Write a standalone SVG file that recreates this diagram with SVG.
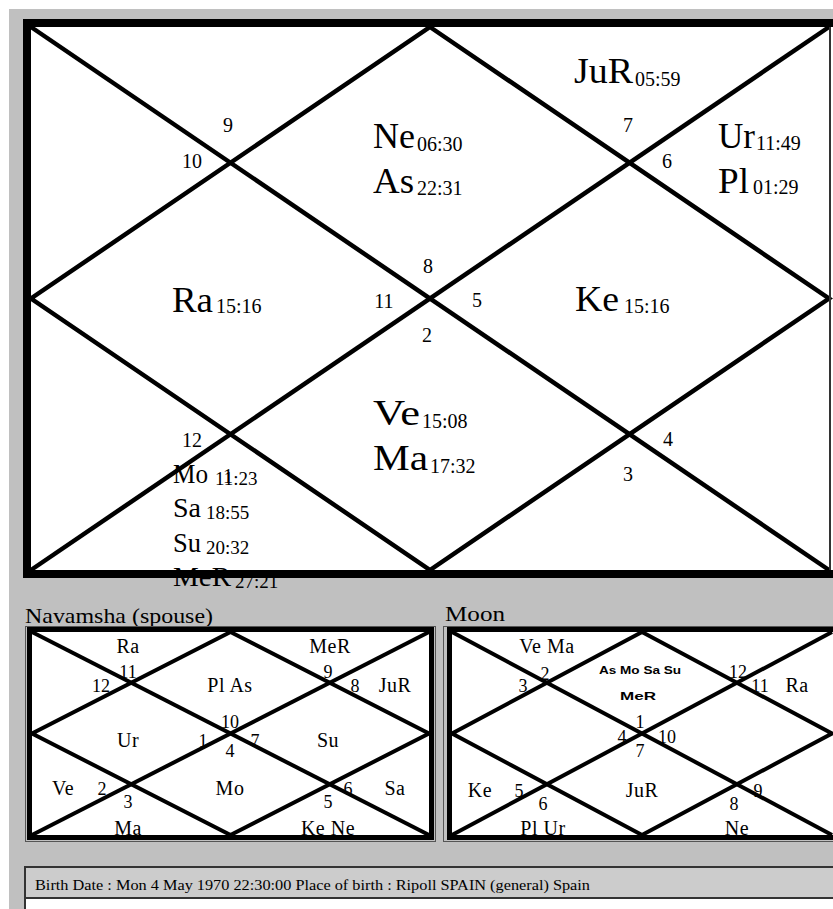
<svg xmlns="http://www.w3.org/2000/svg" width="833" height="909" viewBox="0 0 833 909">
<style>
text{font-family:"Liberation Serif","Times New Roman",serif;fill:#000}
.pl{font-size:35px}
.sub{font-size:20px}
.pl2{font-size:27px}
.sub2{font-size:19px}
.hn{font-size:20px;text-anchor:middle}
.sl{font-size:20px;text-anchor:middle;letter-spacing:0.5px}
.sn{font-size:18px;text-anchor:middle}
.tiny{font-family:"Liberation Sans",Arial,sans-serif;font-size:11px;text-anchor:middle;font-weight:bold}
.diag{stroke:#000;fill:none;stroke-width:4.5;stroke-linejoin:miter}
.sdiag{stroke:#000;fill:none;stroke-width:4}
</style>
<rect x="0" y="0" width="833" height="909" fill="#ffffff"/>
<rect x="9" y="9" width="824" height="900" fill="#c0c0c0"/>

<g id="main-chart">
  <rect x="31" y="27" width="802" height="543" fill="#ffffff"/>
  <g id="main-lines">
    <line class="diag" x1="31" y1="27" x2="829" y2="570"/>
    <line class="diag" x1="829" y1="27" x2="31" y2="570"/>
    <polygon class="diag" points="430,27 829,298.5 430,570 31,298.5"/>
  </g>
  <rect x="23" y="19" width="810" height="8" fill="#000"/>
  <rect x="23" y="570" width="810" height="8" fill="#000"/>
  <rect x="23" y="19" width="8" height="559" fill="#000"/>
  <rect x="829" y="27" width="2" height="543" fill="#333"/>

  <g id="house-numbers">
    <text class="hn" x="228" y="132">9</text>
    <text class="hn" x="192" y="168">10</text>
    <text class="hn" x="428" y="273">8</text>
    <text class="hn" x="384" y="308">11</text>
    <text class="hn" x="427" y="342">2</text>
    <text class="hn" x="477" y="307">5</text>
    <text class="hn" x="628" y="132">7</text>
    <text class="hn" x="667" y="168">6</text>
    <text class="hn" x="192" y="447">12</text>
    <text class="hn" x="228" y="483">1</text>
    <text class="hn" x="668" y="446">4</text>
    <text class="hn" x="628" y="481">3</text>
  </g>
  <g id="h-top">
    <text class="pl" x="373" y="148" textLength="42" lengthAdjust="spacingAndGlyphs">Ne</text>
    <text class="sub" x="417" y="151">06:30</text>
    <text class="pl" x="373" y="193" textLength="41" lengthAdjust="spacingAndGlyphs">As</text>
    <text class="sub" x="417" y="195">22:31</text>
  </g>
  <g id="h-topright">
    <text class="pl" x="574" y="83" textLength="59" lengthAdjust="spacingAndGlyphs">JuR</text>
    <text class="sub" x="635" y="86">05:59</text>
  </g>
  <g id="h-right">
    <text class="pl" x="718" y="148" textLength="37" lengthAdjust="spacingAndGlyphs">Ur</text>
    <text class="sub" x="756" y="150">11:49</text>
    <text class="pl" x="718" y="193" textLength="31" lengthAdjust="spacingAndGlyphs">Pl</text>
    <text class="sub" x="753" y="194">01:29</text>
  </g>
  <g id="h-left">
    <text class="pl" x="172" y="312" textLength="41" lengthAdjust="spacingAndGlyphs">Ra</text>
    <text class="sub" x="216" y="313">15:16</text>
  </g>
  <g id="h-rightmid">
    <text class="pl" x="575" y="311" textLength="44" lengthAdjust="spacingAndGlyphs">Ke</text>
    <text class="sub" x="624" y="313">15:16</text>
  </g>
  <g id="h-bottom">
    <text class="pl" x="373" y="425" textLength="47" lengthAdjust="spacingAndGlyphs">Ve</text>
    <text class="sub" x="422" y="428">15:08</text>
    <text class="pl" x="373" y="470" textLength="55" lengthAdjust="spacingAndGlyphs">Ma</text>
    <text class="sub" x="430" y="473">17:32</text>
  </g>
  <g id="h-bottomleft">
    <text class="pl2" x="173" y="483" textLength="35" lengthAdjust="spacingAndGlyphs">Mo</text>
    <text class="sub2" x="215" y="485">11:23</text>
    <text class="pl2" x="173" y="517" textLength="28" lengthAdjust="spacingAndGlyphs">Sa</text>
    <text class="sub2" x="206" y="519">18:55</text>
    <text class="pl2" x="173" y="552" textLength="28" lengthAdjust="spacingAndGlyphs">Su</text>
    <text class="sub2" x="206" y="554">20:32</text>
    <text class="pl2" x="173" y="586" textLength="58" lengthAdjust="spacingAndGlyphs">MeR</text>
    <text class="sub2" x="235" y="588">27:21</text>
  </g>
</g>

<g id="navamsha">
  <text x="25" y="623" font-size="22" textLength="188" lengthAdjust="spacingAndGlyphs">Navamsha (spouse)</text>
  <rect x="25.5" y="626.5" width="410" height="215" fill="none" stroke="#555" stroke-width="1"/>
  <rect x="32" y="632" width="397" height="203" fill="#ffffff"/>
  <g id="nav-lines">
    <line class="sdiag" x1="32" y1="632" x2="429" y2="835"/>
    <line class="sdiag" x1="429" y1="632" x2="32" y2="835"/>
    <polygon class="sdiag" points="230.5,632 429,733.5 230.5,835 32,733.5"/>
  </g>
  <rect x="29.5" y="629.5" width="402" height="208" fill="none" stroke="#000" stroke-width="5"/>
  <g id="nav-labels">
    <text class="sl" x="128" y="653">Ra</text>
    <text class="sl" x="330" y="653">MeR</text>
    <text class="sn" x="128" y="678">11</text>
    <text class="sn" x="101" y="692">12</text>
    <text class="sl" x="230" y="692">Pl As</text>
    <text class="sn" x="328" y="678">9</text>
    <text class="sn" x="355" y="692">8</text>
    <text class="sl" x="395" y="692">JuR</text>
    <text class="sn" x="230" y="728">10</text>
    <text class="sl" x="128" y="747">Ur</text>
    <text class="sn" x="203" y="747">1</text>
    <text class="sn" x="255" y="747">7</text>
    <text class="sl" x="328" y="747">Su</text>
    <text class="sn" x="230" y="757">4</text>
    <text class="sl" x="63" y="795">Ve</text>
    <text class="sn" x="102" y="795">2</text>
    <text class="sl" x="230" y="795">Mo</text>
    <text class="sn" x="348" y="795">6</text>
    <text class="sl" x="395" y="795">Sa</text>
    <text class="sn" x="128" y="808">3</text>
    <text class="sn" x="328" y="808">5</text>
    <text class="sl" x="128" y="835">Ma</text>
    <text class="sl" x="328" y="835">Ke Ne</text>
  </g>
</g>

<g id="moon">
  <text x="445" y="621" font-size="22" textLength="60" lengthAdjust="spacingAndGlyphs">Moon</text>
  <rect x="443.5" y="626.5" width="400" height="215" fill="none" stroke="#555" stroke-width="1"/>
  <rect x="452" y="632" width="381" height="203" fill="#ffffff"/>
  <g id="moon-lines">
    <line class="sdiag" x1="452" y1="632" x2="832" y2="835"/>
    <line class="sdiag" x1="832" y1="632" x2="452" y2="835"/>
    <polygon class="sdiag" points="642,632 832,733.5 642,835 452,733.5"/>
  </g>
  <rect x="449.5" y="629.5" width="390" height="208" fill="none" stroke="#000" stroke-width="5"/>
  <g id="moon-labels">
    <text class="sl" x="547" y="653">Ve Ma</text>
    <text class="sn" x="545" y="680">2</text>
    <text class="sn" x="523" y="692">3</text>
    <text class="tiny" x="640" y="674" textLength="82" lengthAdjust="spacingAndGlyphs">As Mo Sa Su</text>
    <text class="tiny" x="638" y="700" textLength="36" lengthAdjust="spacingAndGlyphs">MeR</text>
    <text class="sn" x="738" y="678">12</text>
    <text class="sn" x="760" y="692">11</text>
    <text class="sl" x="797" y="692">Ra</text>
    <text class="sn" x="640" y="728">1</text>
    <text class="sn" x="622" y="743">4</text>
    <text class="sn" x="667" y="743">10</text>
    <text class="sn" x="640" y="757">7</text>
    <text class="sl" x="480" y="797">Ke</text>
    <text class="sn" x="519" y="797">5</text>
    <text class="sn" x="543" y="810">6</text>
    <text class="sl" x="642" y="797">JuR</text>
    <text class="sn" x="734" y="810">8</text>
    <text class="sn" x="758" y="797">9</text>
    <text class="sl" x="543" y="835">Pl Ur</text>
    <text class="sl" x="737" y="835">Ne</text>
  </g>
</g>

<g id="info-bar">
  <rect x="25" y="867" width="820" height="60" fill="#ffffff" stroke="#333" stroke-width="2"/>
  <rect x="26" y="868" width="818" height="30" fill="#cccccc"/>
  <line x1="25" y1="898" x2="833" y2="898" stroke="#333" stroke-width="2"/>
  <text x="35" y="890" font-size="15" textLength="555" lengthAdjust="spacingAndGlyphs">Birth Date : Mon 4 May 1970  22:30:00  Place of birth : Ripoll SPAIN (general) Spain</text>
</g>
</svg>
